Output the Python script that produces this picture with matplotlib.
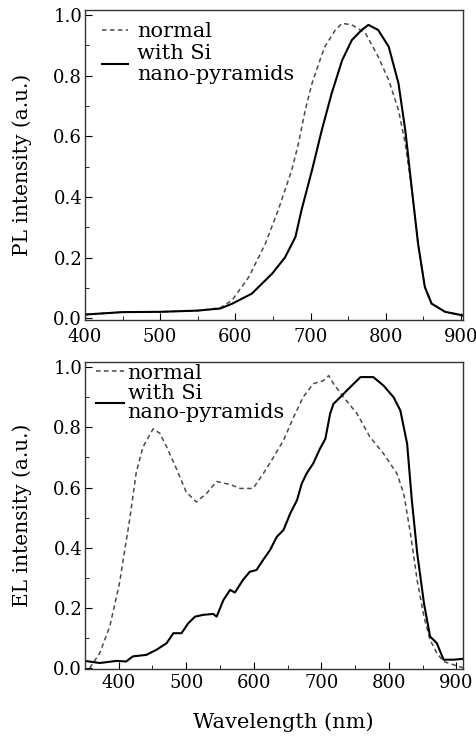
import numpy as np
import matplotlib.pyplot as plt
from matplotlib.ticker import MultipleLocator

plt.rcParams['font.family'] = ['DejaVu Serif']

# PL spectra (top)
pl_wl_norm = [400, 450, 500, 550, 580, 596, 618, 640, 657, 675, 684, 693, 702, 711, 719,
              733, 742, 755, 773, 790, 804, 817, 826, 835, 843, 852, 861, 879, 901, 905]
pl_normal = [0.012, 0.02, 0.021, 0.025, 0.034, 0.06, 0.136, 0.246, 0.356, 0.488, 0.576, 0.686,
             0.774, 0.84, 0.895, 0.95, 0.972, 0.967, 0.94, 0.862, 0.785, 0.686, 0.576, 0.42,
             0.246, 0.103, 0.048, 0.021, 0.01, 0.006]

pl_wl_si = [400, 450, 500, 550, 580, 596, 622, 649, 666, 680, 688, 702, 715, 728, 742, 755,
            768, 777, 790, 804, 817, 826, 835, 843, 852, 861, 879, 901, 905]
pl_si = [0.012, 0.02, 0.021, 0.025, 0.032, 0.048, 0.081, 0.147, 0.20, 0.268, 0.356, 0.488,
         0.62, 0.74, 0.85, 0.917, 0.95, 0.967, 0.95, 0.895, 0.774, 0.62, 0.42, 0.246, 0.103,
         0.048, 0.021, 0.01, 0.006]

# EL spectra (bottom)
el_wl_norm = [357, 372, 387, 401, 416, 426, 436, 451, 461, 471, 486, 500, 515, 530, 545, 565,
              580, 599, 614, 629, 644, 659, 673, 688, 703, 711, 718, 733, 753, 772, 792, 812,
              822, 832, 842, 852, 861, 871, 881, 896, 911]
el_normal = [0.0, 0.05, 0.14, 0.28, 0.49, 0.65, 0.735, 0.795, 0.78, 0.735, 0.66, 0.585, 0.552,
             0.58, 0.62, 0.61, 0.597, 0.597, 0.646, 0.70, 0.757, 0.834, 0.90, 0.945, 0.955,
             0.972, 0.945, 0.90, 0.845, 0.768, 0.713, 0.646, 0.58, 0.447, 0.29, 0.17, 0.094,
             0.05, 0.022, 0.011, 0.0]

el_wl_si = [350, 372, 397, 411, 421, 441, 456, 471, 481, 493, 503, 513, 525, 540, 545, 555,
            565, 572, 584, 594, 604, 614, 624, 634, 644, 654, 664, 671, 678, 688, 698, 706,
            713, 718, 728, 738, 748, 758, 767, 777, 792, 807, 817, 827, 834, 842, 852, 861,
            871, 881, 896, 911]
el_si = [0.024, 0.017, 0.024, 0.022, 0.039, 0.044, 0.061, 0.083, 0.116, 0.116, 0.149, 0.171,
         0.177, 0.18, 0.171, 0.226, 0.26, 0.251, 0.293, 0.32, 0.326, 0.36, 0.392, 0.436, 0.459,
         0.514, 0.558, 0.613, 0.646, 0.68, 0.729, 0.762, 0.845, 0.878, 0.90, 0.923, 0.945,
         0.967, 0.967, 0.967, 0.939, 0.90, 0.856, 0.746, 0.558, 0.381, 0.215, 0.105, 0.083,
         0.028, 0.028, 0.031]

fig = plt.figure(figsize=(4.77, 7.36), dpi=100)
ax1 = fig.add_axes([0.178, 0.5652, 0.793, 0.4212])
ax2 = fig.add_axes([0.178, 0.0910, 0.793, 0.4171])

dash = (3, 2.2)
ax1.plot(pl_wl_norm, pl_normal, '--', dashes=dash, color='#4a4a4a', lw=1.1, label='normal')
ax1.plot(pl_wl_si, pl_si, '-', color='black', lw=1.5, label='with Si\nnano-pyramids')
ax1.set_xlim(400, 903)
ax1.set_ylim(-0.006, 1.016)
ax1.set_ylabel('PL intensity (a.u.)', fontsize=14.5)

ax2.plot(el_wl_norm, el_normal, '--', dashes=dash, color='#4a4a4a', lw=1.1, label='normal')
ax2.plot(el_wl_si, el_si, '-', color='black', lw=1.5, label='with Si\nnano-pyramids')
ax2.set_xlim(350, 910)
ax2.set_ylim(-0.003, 1.017)
ax2.set_ylabel('EL intensity (a.u.)', fontsize=14.5)
ax2.set_xlabel('Wavelength (nm)', fontsize=15)

for ax in (ax1, ax2):
    ax.xaxis.set_major_locator(MultipleLocator(100))
    ax.xaxis.set_minor_locator(MultipleLocator(50))
    ax.yaxis.set_major_locator(MultipleLocator(0.2))
    ax.yaxis.set_minor_locator(MultipleLocator(0.1))
    ax.yaxis.set_major_formatter(plt.FormatStrFormatter('%.1f'))
    ax.tick_params(which='both', direction='in', labelsize=13, pad=2)
    ax.tick_params(which='major', length=5)
    ax.tick_params(which='minor', length=3)
    ax.tick_params(top=False, right=False)
    for s in ax.spines.values():
        s.set_linewidth(1.0)
        s.set_color('#333333')

ax1.tick_params(axis='x', pad=5.5)
ax2.tick_params(axis='x', pad=3.5)

leg1 = ax1.legend(loc='upper left', bbox_to_anchor=(0.045, 0.96), frameon=False, fontsize=15,
                  handlelength=1.25, handletextpad=0.45, labelspacing=0.12,
                  borderaxespad=0, borderpad=0)
leg2 = ax2.legend(loc='upper left', bbox_to_anchor=(0.03, 0.995), frameon=False, fontsize=15,
                  handlelength=1.35, handletextpad=0.15, labelspacing=0.05,
                  borderaxespad=0, borderpad=0)
for t in leg1.get_texts():
    t.set_linespacing(1.15)
for t in leg2.get_texts():
    t.set_linespacing(1.05)

ax1.yaxis.set_label_coords(-0.14, 0.5)
ax2.yaxis.set_label_coords(-0.14, 0.5)
ax2.xaxis.set_label_coords(0.524, -0.14)

fig.savefig('out.png', dpi=100)
